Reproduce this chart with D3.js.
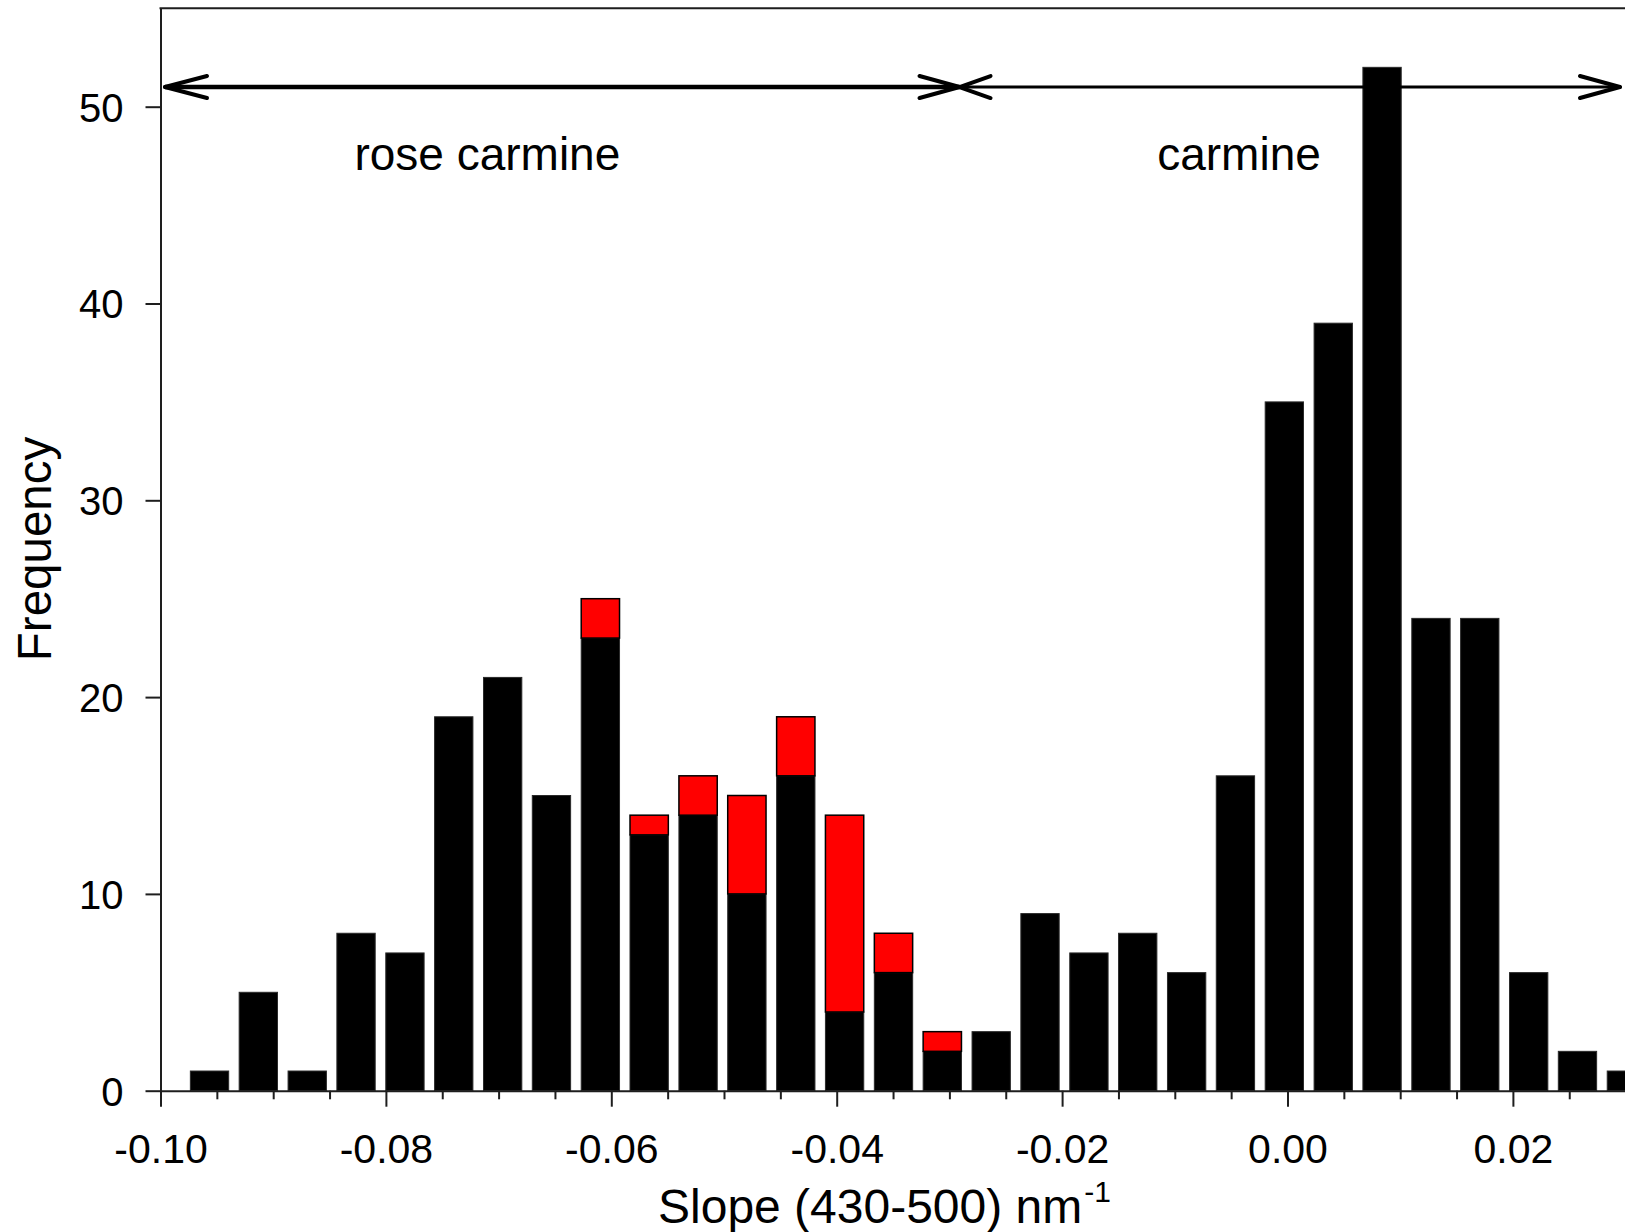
<!DOCTYPE html>
<html>
<head>
<meta charset="utf-8">
<script src="https://cdn.jsdelivr.net/npm/d3@7"></script>
<style>
  html, body { margin: 0; padding: 0; background: #fff; }
  svg { display: block; font-family: "Liberation Sans", Arial, Helvetica, sans-serif; }
</style>
</head>
<body>
<svg id="chart" width="1625" height="1232"></svg>
<script>
// ---- data ----
const binCenters = [-0.09565, -0.09132, -0.08698, -0.08265, -0.07831, -0.07398, -0.06964, -0.06531, -0.06097, -0.05664,
                    -0.05230, -0.04797, -0.04363, -0.03930, -0.03496, -0.03063, -0.02629, -0.02196, -0.01762, -0.01329,
                    -0.00895, -0.00462, -0.00028, 0.00406, 0.00839, 0.01273, 0.01706, 0.02140, 0.02573, 0.03007];
const blackCounts = [1, 5, 1, 8, 7, 19, 21, 15, 23, 13, 14, 10, 16, 4, 6, 2, 3, 9, 7, 8, 6, 16, 35, 39, 52, 24, 24, 6, 2, 1];
const redCounts   = [0, 0, 0, 0, 0, 0, 0, 0, 2, 1, 2, 5, 3, 10, 2, 1, 0, 0, 0, 0, 0, 0, 0, 0, 0, 0, 0, 0, 0, 0];
const binWidth = 0.0034;

const xMajorTicks = [-0.10, -0.08, -0.06, -0.04, -0.02, 0.00, 0.02];
const xTickLabels = ["-0.10", "-0.08", "-0.06", "-0.04", "-0.02", "0.00", "0.02"];
const xMinorTicks = [-0.095, -0.09, -0.085, -0.075, -0.07, -0.065, -0.055, -0.05, -0.045, -0.035, -0.03, -0.025,
                     -0.015, -0.01, -0.005, 0.005, 0.01, 0.015, 0.025, 0.03];
const yTicks = [0, 10, 20, 30, 40, 50];

const rangeLabels = ["rose carmine", "carmine"];
const rangeStart = [-0.0996, -0.0291];
const rangeEnd   = [-0.0291, 0.0295];
const rangeLabelX = [-0.0710, -0.0043];
const arrowY = 51;
const labelY = 46.8;

// ---- layout ----
const svg = d3.select("#chart");
const W = 1625;
const mLeft = 160.5, mBottom = 1090.7, mTop = 8.3;

const x = d3.scaleLinear().domain([-0.10, 0.03]).range([mLeft, 1625.6]);
const y = d3.scaleLinear().domain([0, 55]).range([mBottom, mTop]);
const axisColor = "#1e1e1e";

// bars
const bars = svg.append("g");
binCenters.forEach((c, i) => {
  const x0 = x(c - binWidth / 2), x1 = x(c + binWidth / 2);
  bars.append("rect")
    .attr("x", x0).attr("width", x1 - x0)
    .attr("y", y(blackCounts[i])).attr("height", y(0) - y(blackCounts[i]))
    .attr("fill", "#000").attr("stroke", "#2a2a2a").attr("stroke-width", 1);
  if (redCounts[i] > 0) {
    const t = blackCounts[i] + redCounts[i];
    bars.append("rect")
      .attr("x", x0).attr("width", x1 - x0)
      .attr("y", y(t)).attr("height", y(blackCounts[i]) - y(t))
      .attr("fill", "#ff0000").attr("stroke", "#000").attr("stroke-width", 1.5);
  }
});

// x axis (major)
const gx = svg.append("g").attr("transform", `translate(0,${mBottom})`)
  .call(d3.axisBottom(x).tickValues(xMajorTicks).tickSize(16).tickSizeOuter(0)
    .tickFormat((d, i) => xTickLabels[i]));
gx.select(".domain").attr("stroke", axisColor).attr("stroke-width", 2);
gx.selectAll(".tick line").attr("stroke", axisColor).attr("stroke-width", 2);
gx.selectAll(".tick text").attr("y", 72.5).attr("dy", 0)
  .attr("font-size", 41).attr("fill", "#000").attr("font-family", "Liberation Sans, Arial, sans-serif");

// x axis (minor)
const gxm = svg.append("g").attr("transform", `translate(0,${mBottom})`)
  .call(d3.axisBottom(x).tickValues(xMinorTicks).tickSize(8.6).tickSizeOuter(0).tickFormat(""));
gxm.select(".domain").remove();
gxm.selectAll(".tick line").attr("stroke", axisColor).attr("stroke-width", 2);

// y axis
const gy = svg.append("g").attr("transform", `translate(${mLeft},0)`)
  .call(d3.axisLeft(y).tickValues(yTicks).tickSize(15).tickPadding(22).tickSizeOuter(0));
gy.select(".domain").attr("stroke", axisColor).attr("stroke-width", 2);
gy.selectAll(".tick line").attr("stroke", axisColor).attr("stroke-width", 2);
gy.selectAll(".tick text").attr("font-size", 40).attr("fill", "#000").attr("dy", "0.36em")
  .attr("font-family", "Liberation Sans, Arial, sans-serif");

// top frame
svg.append("line").attr("x1", mLeft - 1).attr("x2", W).attr("y1", y(55)).attr("y2", y(55))
  .attr("stroke", axisColor).attr("stroke-width", 2);

// arrows
const headHalf = 11;
const arrows = svg.append("g").attr("stroke", "#000").attr("fill", "none")
  .attr("stroke-linecap", "round");
rangeStart.forEach((s, i) => {
  const xa = x(s), xb = x(rangeEnd[i]), ya = y(arrowY);
  const g = arrows.append("g");
  g.append("line").attr("x1", xa).attr("x2", xb).attr("y1", ya).attr("y2", ya)
    .attr("stroke-width", i === 0 ? 4.3 : 3.2).attr("stroke-linecap", "butt");
  const startLen = i === 0 ? 42 : 31;
  const heads = [[xa, xa + startLen], [xb, xb - 40]];
  heads.forEach(([tip, back]) => {
    g.append("line").attr("x1", tip).attr("y1", ya).attr("x2", back).attr("y2", ya - headHalf).attr("stroke-width", 4);
    g.append("line").attr("x1", tip).attr("y1", ya).attr("x2", back).attr("y2", ya + headHalf).attr("stroke-width", 4);
  });
});

// range labels
rangeLabels.forEach((t, i) => {
  svg.append("text").attr("x", x(rangeLabelX[i])).attr("y", y(labelY))
    .attr("text-anchor", "middle").attr("font-size", 46).attr("fill", "#000").text(t);
});

// axis titles
const xt = svg.append("text").attr("x", 658).attr("y", 1223).attr("font-size", 48).attr("fill", "#000");
xt.append("tspan").text("Slope (430-500) nm");
xt.append("tspan").attr("font-size", 30).attr("dy", -21).attr("dx", 2).text("-1");

svg.append("text").attr("transform", "translate(51,549) rotate(-90)")
  .attr("text-anchor", "middle").attr("font-size", 47.5).attr("fill", "#000").text("Frequency");
</script>
</body>
</html>
